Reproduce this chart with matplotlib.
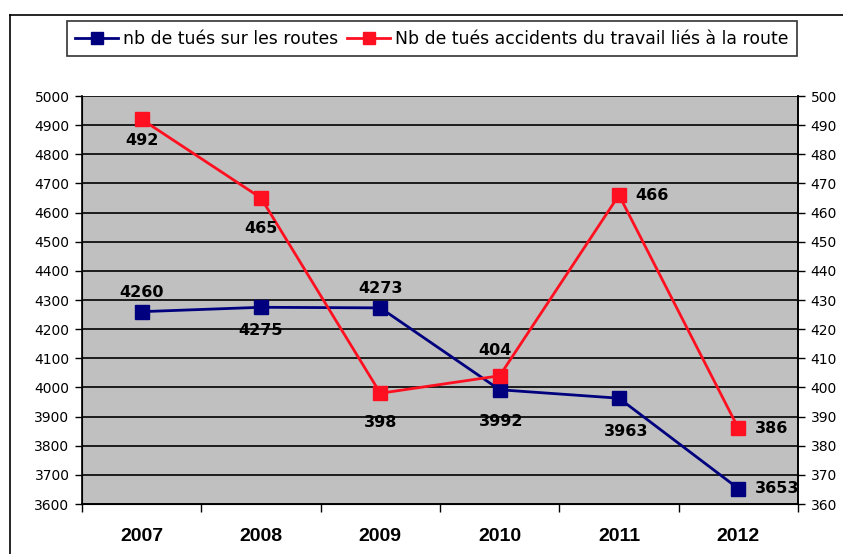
import numpy as np
import matplotlib
matplotlib.use("Agg")
import matplotlib.pyplot as plt
from matplotlib.lines import Line2D
from matplotlib.ticker import FixedLocator, NullFormatter

years = ["2007", "2008", "2009", "2010", "2011", "2012"]
tues_routes = [4260, 4275, 4273, 3992, 3963, 3653]
tues_travail = [492, 465, 398, 404, 466, 386]

# label placement per point: (dx, dy) in points, ha
routes_lbl = [(0, 14, "center"), (0, -17, "center"), (0, 14, "center"),
              (1, -23, "center"), (5, -24, "center"), (12, 0, "left")]
travail_lbl = [(0, -15, "center"), (0, -22, "center"), (0, -21, "center"),
               (-3, 18, "center"), (12, 0, "left"), (12, 0, "left")]

navy = "#00007F"
red = "#FF1020"

plt.rcParams["font.family"] = ["DejaVu Sans"]

fig = plt.figure(figsize=(8.43, 5.54), dpi=100)
ax = fig.add_axes([82 / 843, 1 - 504 / 554, (798 - 82) / 843, (504 - 96) / 554])
ax.set_facecolor("#C0C0C0")
x = np.arange(len(years))

ax.set_xlim(-0.5, len(years) - 0.5)
ax.set_ylim(3600, 5000)
ax.set_yticks(np.arange(3600, 5001, 100))
ax.yaxis.grid(True, color="black", linewidth=1.2)
ax.set_axisbelow(True)
ax.tick_params(axis="y", direction="out", length=5, width=1, labelsize=10, pad=4)

ax.xaxis.set_major_locator(FixedLocator(np.arange(-0.5, len(years), 1.0)))
ax.xaxis.set_major_formatter(NullFormatter())
ax.xaxis.set_minor_locator(FixedLocator(x))
ax.set_xticks(x, years, minor=True)
ax.tick_params(axis="x", which="major", direction="out", length=6, width=1)
ax.tick_params(axis="x", which="minor", length=0, pad=17)
for t in ax.get_xticklabels(minor=True):
    t.set_fontfamily(["Liberation Sans Narrow", "Liberation Sans"])
    t.set_fontweight("bold")
    t.set_fontsize(14)

ax.spines["top"].set_visible(False)
ax.spines["left"].set_linewidth(1.2)
ax.spines["bottom"].set_linewidth(1.2)
ax.spines["right"].set_linewidth(1.2)

l1, = ax.plot(x, tues_routes, color=navy, lw=2, marker="s", ms=10,
              label="nb de tués sur les routes", clip_on=False)

ax2 = ax.twinx()
ax2.set_ylim(360, 500)
ax2.set_yticks(np.arange(360, 501, 10))
ax2.tick_params(axis="y", direction="out", length=5, width=1, labelsize=10, pad=4)
ax2.spines["top"].set_visible(False)
ax2.spines["right"].set_linewidth(1.2)
l2, = ax2.plot(x, tues_travail, color=red, lw=2, marker="s", ms=10,
               label="Nb de tués accidents du travail liés à la route", clip_on=False)

lblfont = dict(fontweight="bold", fontsize=11.5,
               fontfamily=["Liberation Sans Narrow", "DejaVu Sans"])
for xi, v, (dx, dy, ha) in zip(x, tues_routes, routes_lbl):
    ax.annotate(str(v), (xi, v), xytext=(dx, dy), textcoords="offset points",
                ha=ha, va="center", **lblfont)
for xi, v, (dx, dy, ha) in zip(x, tues_travail, travail_lbl):
    ax2.annotate(str(v), (xi, v), xytext=(dx, dy), textcoords="offset points",
                 ha=ha, va="center", **lblfont)

leg = fig.legend(handles=[l1, l2], loc="upper center", ncol=2,
                 bbox_to_anchor=(432 / 843, 1 - 21 / 554), fontsize=12.4,
                 frameon=True, fancybox=False, edgecolor="black",
                 handlelength=2.5, handletextpad=0.3, columnspacing=0.5,
                 borderpad=0.5, borderaxespad=0, markerscale=0.9)
leg.get_frame().set_linewidth(1.2)

# outer chart frame
fig.add_artist(Line2D([10 / 843, 10 / 843], [0, 1 - 15 / 554], color="black",
                      lw=1.2, transform=fig.transFigure))
fig.add_artist(Line2D([10 / 843, 1], [1 - 15 / 554, 1 - 15 / 554], color="black",
                      lw=1.2, transform=fig.transFigure))

fig.savefig("out.png", dpi=100)
